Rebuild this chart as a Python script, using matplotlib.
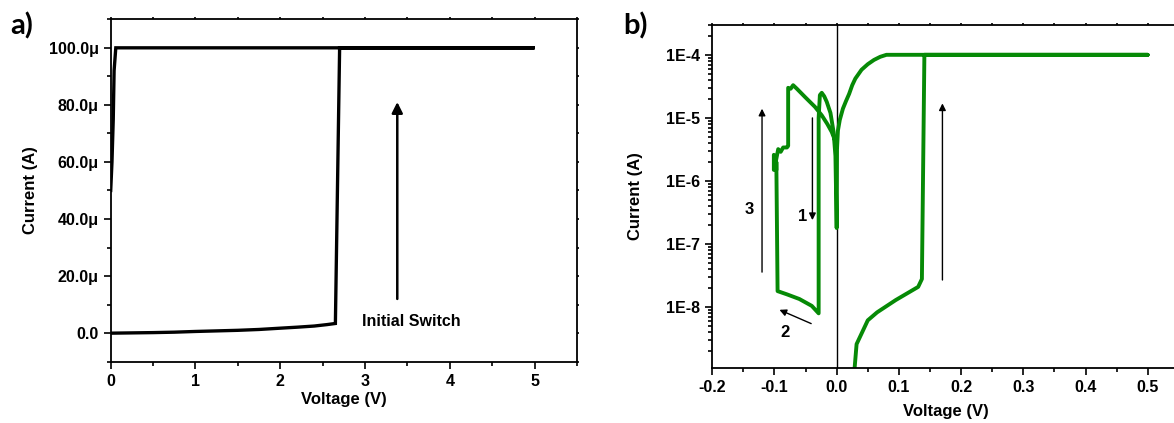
import numpy as np
import matplotlib.pyplot as plt
from matplotlib.ticker import FixedLocator, FixedFormatter, MultipleLocator, LogLocator, NullFormatter

plt.rcParams['font.family'] = ['Liberation Sans', 'DejaVu Sans']
plt.rcParams['font.weight'] = 'bold'

# panel a: initial switch sweep (voltage in V, current in uA)
a_volt = [0.0, 0.25, 0.5, 0.75, 1.0, 1.25, 1.5, 1.75, 2.0, 2.2, 2.4, 2.55, 2.65,
          2.7, 3.0, 4.0, 5.0, 4.0, 3.0, 2.0, 1.0, 0.06, 0.04, 0.03, 0.015, 0.0]
a_curr = [0.0, 0.1, 0.2, 0.35, 0.6, 0.8, 1.0, 1.3, 1.75, 2.1, 2.5, 3.0, 3.4,
          100, 100, 100, 100, 100, 100, 100, 100, 100, 92, 75, 60, 50]
a_yticks = [0, 20, 40, 60, 80, 100]
a_ylabels = ['0.0', '20.0\u03bc', '40.0\u03bc', '60.0\u03bc', '80.0\u03bc', '100.0\u03bc']

# panel b: bipolar sweep on log scale (current in A)
b_volt = [0.026, 0.032, 0.05, 0.065, 0.095, 0.131, 0.137, 0.141, 0.3, 0.5,
          0.3, 0.08, 0.07, 0.06, 0.05, 0.04, 0.03, 0.025, 0.02, 0.015, 0.01,
          0.005, 0.002, 0.0005, 0.0,
          -0.002, -0.005, -0.01, -0.016, -0.02, -0.024, -0.027, -0.029, -0.029,
          -0.04, -0.06, -0.08, -0.095, -0.097, -0.097, -0.101, -0.101, -0.098,
          -0.094, -0.09, -0.086, -0.08, -0.078, -0.078, -0.074, -0.07, -0.064,
          -0.05, -0.035, -0.024, -0.015, -0.008, -0.003, 0.0]
b_curr = [5e-10, 2.6e-9, 6.2e-9, 8.3e-9, 1.3e-8, 2.1e-8, 2.8e-8, 1e-4, 1e-4, 1e-4,
          1e-4, 1e-4, 9.3e-5, 8.3e-5, 7.1e-5, 5.8e-5, 4.2e-5, 3.3e-5, 2.4e-5, 1.85e-5, 1.4e-5,
          9.3e-6, 6.3e-6, 3.2e-6, 1.8e-7,
          2.5e-6, 6e-6, 1.2e-5, 1.8e-5, 2.2e-5, 2.5e-5, 2.3e-5, 1e-5, 8e-9,
          1.05e-8, 1.35e-8, 1.6e-8, 1.8e-8, 2e-6, 1.5e-6, 1.5e-6, 2.6e-6, 2e-6,
          3.2e-6, 2.9e-6, 3.4e-6, 3.4e-6, 3.6e-6, 3e-5, 2.9e-5, 3.3e-5, 2.9e-5,
          2.1e-5, 1.5e-5, 1.1e-5, 8e-6, 6e-6, 4.5e-6, 3.5e-6]
b_yticks = [1e-8, 1e-7, 1e-6, 1e-5, 1e-4]
b_ylabels = ['1E-8', '1E-7', '1E-6', '1E-5', '1E-4']
b_xticks = [-0.2, -0.1, 0.0, 0.1, 0.2, 0.3, 0.4, 0.5]
b_xlabels = ['-0.2', '-0.1', '0.0', '0.1', '0.2', '0.3', '0.4', '0.5']

fig = plt.figure(figsize=(11.74, 4.23), dpi=100)
ax1 = fig.add_axes([0.0943, 0.1449, 0.3972, 0.8095])
ax2 = fig.add_axes([0.6067, 0.1307, 0.3974, 0.8109])


def style_axes(ax):
    for s in ax.spines.values():
        s.set_linewidth(1.3)
    ax.tick_params(which='both', direction='out', width=1.2, labelsize=11.5)
    ax.tick_params(which='major', length=5)
    ax.tick_params(which='minor', length=3)
    ax.tick_params(which='both', top=True, right=True)
    ax.tick_params(which='both', axis='x', pad=4)
    # Origin-style tiny ticks on the opposite axes
    for t in ax.xaxis.get_major_ticks() + ax.xaxis.get_minor_ticks():
        t.tick2line.set_markersize(1.5)
    for t in ax.yaxis.get_major_ticks() + ax.yaxis.get_minor_ticks():
        t.tick2line.set_markersize(1.5)


# ---- panel a
ax1.plot(a_volt, np.array(a_curr) * 1e-6, color='black', lw=2.4, solid_joinstyle='miter')
ax1.set_xlim(0, 5.5)
ax1.set_ylim(-10e-6, 110e-6)
ax1.xaxis.set_major_locator(MultipleLocator(1))
ax1.xaxis.set_minor_locator(MultipleLocator(0.5))
ax1.yaxis.set_major_locator(FixedLocator([v * 1e-6 for v in a_yticks]))
ax1.yaxis.set_major_formatter(FixedFormatter(a_ylabels))
ax1.yaxis.set_minor_locator(MultipleLocator(10e-6))
style_axes(ax1)
ax1.set_xlabel('Voltage (V)', fontsize=12, fontweight='bold', labelpad=2)
ax1.set_ylabel('Current (A)', fontsize=12, fontweight='bold', labelpad=8)
ax1.annotate('', xy=(3.38, 81e-6), xytext=(3.38, 12e-6),
             arrowprops=dict(arrowstyle='-|>', color='black', lw=1.8,
                             mutation_scale=16, shrinkA=0, shrinkB=0))
ax1.text(2.96, 4.2e-6, 'Initial Switch', fontsize=11.5, fontweight='bold', va='center')

# ---- panel b
ax2.axvline(0, color='black', lw=1.0)
ax2.plot(b_volt, b_curr, color='#068a06', lw=2.8, solid_joinstyle='round')
ax2.set_yscale('log')
ax2.set_xlim(-0.2, 0.55)
ax2.set_ylim(1.1e-9, 3e-4)
ax2.xaxis.set_major_locator(FixedLocator(b_xticks))
ax2.xaxis.set_major_formatter(FixedFormatter(b_xlabels))
ax2.xaxis.set_minor_locator(MultipleLocator(0.05))
ax2.yaxis.set_major_locator(FixedLocator(b_yticks))
ax2.yaxis.set_major_formatter(FixedFormatter(b_ylabels))
ax2.yaxis.set_minor_locator(LogLocator(base=10, subs=np.arange(2, 10)))
ax2.yaxis.set_minor_formatter(NullFormatter())
style_axes(ax2)
ax2.set_xlabel('Voltage (V)', fontsize=12, fontweight='bold', labelpad=6)
ax2.set_ylabel('Current (A)', fontsize=12, fontweight='bold', labelpad=17)

arrow_kw = dict(arrowstyle='-|>', color='black', lw=1.0, mutation_scale=10,
                shrinkA=0, shrinkB=0)
ax2.annotate('', xy=(-0.12, 1.4e-5), xytext=(-0.12, 3.6e-8), arrowprops=arrow_kw)
ax2.annotate('', xy=(-0.039, 2.4e-7), xytext=(-0.039, 1e-5), arrowprops=arrow_kw)
ax2.annotate('', xy=(-0.092, 9.1e-9), xytext=(-0.041, 5.5e-9), arrowprops=arrow_kw)
ax2.annotate('', xy=(0.17, 1.7e-5), xytext=(0.17, 2.7e-8), arrowprops=arrow_kw)
ax2.text(-0.14, 3.5e-7, '3', fontsize=12, fontweight='bold', ha='center', va='center')
ax2.text(-0.055, 2.7e-7, '1', fontsize=12, fontweight='bold', ha='center', va='center')
ax2.text(-0.083, 4e-9, '2', fontsize=12, fontweight='bold', ha='center', va='center')

fig.text(0.009, 0.918, 'a)', fontsize=21, fontweight='bold', family=['Lato', 'DejaVu Sans'])
fig.text(0.531, 0.918, 'b)', fontsize=21, fontweight='bold', family=['Lato', 'DejaVu Sans'])

fig.savefig('out.png', dpi=100)
